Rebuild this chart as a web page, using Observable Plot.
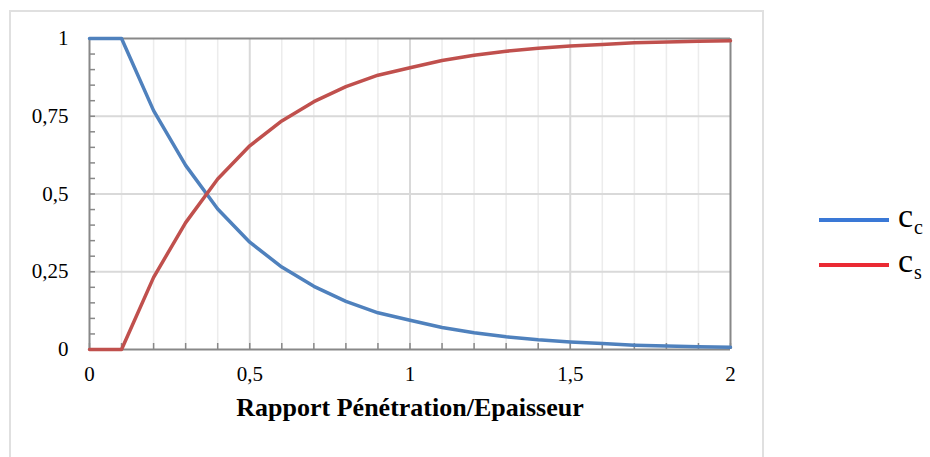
<!DOCTYPE html>
<html>
<head>
<meta charset="utf-8">
<script src="https://cdn.jsdelivr.net/npm/d3@7"></script>
<script src="https://cdn.jsdelivr.net/npm/@observablehq/plot@0.6"></script>
<style>
  html, body { margin: 0; padding: 0; background: #fff; }
  #wrap { position: relative; width: 930px; height: 457px; overflow: hidden; font-family: "Times New Roman", "Liberation Serif", serif; }
  #chart { position: absolute; left: 0; top: 0; }
  #frame { position: absolute; left: 9px; top: 10px; width: 755px; height: 460px; border: 2px solid #e0e0e0; box-sizing: border-box; }
  .leg { position: absolute; left: 819px; width: 70px; height: 4px; }
  .lab { position: absolute; left: 898px; font-family: "Times New Roman", "Liberation Serif", serif; font-size: 34px; line-height: 1; color: #000; }
  .lab sub { font-size: 20px; vertical-align: baseline; position: relative; top: 7px; margin-left: 1px; }
</style>
</head>
<body>
<div id="wrap">
  <div id="frame"></div>
  <div id="chart"></div>
  <div class="leg" style="top:218px;background:#3a78d6"></div>
  <div class="lab" style="top:199px">c<sub>c</sub></div>
  <div class="leg" style="top:263px;background:#ea2a33"></div>
  <div class="lab" style="top:244px">c<sub>s</sub></div>
</div>
<script>
const ratio = [0, 0.1, 0.2, 0.3, 0.4, 0.5, 0.6, 0.7, 0.8, 0.9, 1.0, 1.1, 1.2, 1.3, 1.4, 1.5, 1.6, 1.7, 1.8, 1.9, 2.0];
const cc = [1, 1, 0.768, 0.592, 0.452, 0.345, 0.265, 0.203, 0.155, 0.118, 0.094, 0.071, 0.054, 0.041, 0.031, 0.024, 0.019, 0.014, 0.011, 0.009, 0.007];
const cs = [0, 0, 0.232, 0.408, 0.548, 0.655, 0.735, 0.797, 0.845, 0.882, 0.906, 0.929, 0.946, 0.959, 0.969, 0.976, 0.981, 0.986, 0.989, 0.991, 0.993];
const xMinor = [0.1, 0.2, 0.3, 0.4, 0.6, 0.7, 0.8, 0.9, 1.1, 1.2, 1.3, 1.4, 1.6, 1.7, 1.8, 1.9];
const xMajor = [0.5, 1, 1.5];
const xLabels = [0, 0.5, 1, 1.5, 2];
const yGrid = [0.25, 0.5, 0.75];
const yLabels = [0, 0.25, 0.5, 0.75, 1];
const yTicks = d3.range(0, 21).map(i => i / 20);
const xTicks = d3.range(0, 21).map(i => i / 10);
const xTitle = "Rapport Pénétration/Epaisseur";

const rowsC = ratio.map((x, i) => ({x, y: cc[i]}));
const rowsS = ratio.map((x, i) => ({x, y: cs[i]}));
const fmt = d => String(d).replace(".", ",");
const none = () => "";
const serif = "'Times New Roman', 'Liberation Serif', serif";

const plot = Plot.plot({
  width: 930,
  height: 457,
  marginLeft: 89,
  marginRight: 200,
  marginTop: 38,
  marginBottom: 108,
  style: {fontFamily: serif, fontSize: "21px", background: "transparent", color: "#000"},
  x: {domain: [0, 2], label: null},
  y: {domain: [0, 1], label: null},
  marks: [
    Plot.ruleX(xMinor, {stroke: "#ececec", strokeWidth: 1.5}),
    Plot.ruleX(xMajor, {stroke: "#d9d9d9", strokeWidth: 2}),
    Plot.ruleY(yGrid, {stroke: "#d9d9d9", strokeWidth: 2}),
    Plot.axisY({ticks: yTicks, tickSize: -6, tickFormat: none, label: null, stroke: "#888", strokeWidth: 1.5}),
    Plot.axisX({ticks: xTicks, tickSize: -6, tickFormat: none, label: null, stroke: "#888", strokeWidth: 1.5}),
    Plot.axisY({ticks: yLabels, tickSize: 0, tickPadding: 21, tickFormat: fmt, label: null, fill: "#000", fontSize: 21, fontFamily: serif}),
    Plot.axisX({ticks: xLabels, tickSize: 0, tickPadding: 17, tickFormat: fmt, label: null, fill: "#000", fontSize: 21, fontFamily: serif}),
    Plot.ruleY([0], {stroke: "#888", strokeWidth: 2}),
    Plot.ruleY([1], {stroke: "#888", strokeWidth: 2}),
    Plot.ruleX([0], {stroke: "#888", strokeWidth: 2}),
    Plot.ruleX([2], {stroke: "#888", strokeWidth: 2}),
    Plot.line(rowsC, {x: "x", y: "y", stroke: "#4f81bd", strokeWidth: 3.5}),
    Plot.line(rowsS, {x: "x", y: "y", stroke: "#c0504d", strokeWidth: 3.5}),
    Plot.text([xTitle], {frameAnchor: "bottom", dy: 66, text: d => d, fontWeight: "bold", fontSize: 26, fill: "#000", fontFamily: serif})
  ]
});
document.getElementById("chart").appendChild(plot);
</script>
</body>
</html>
